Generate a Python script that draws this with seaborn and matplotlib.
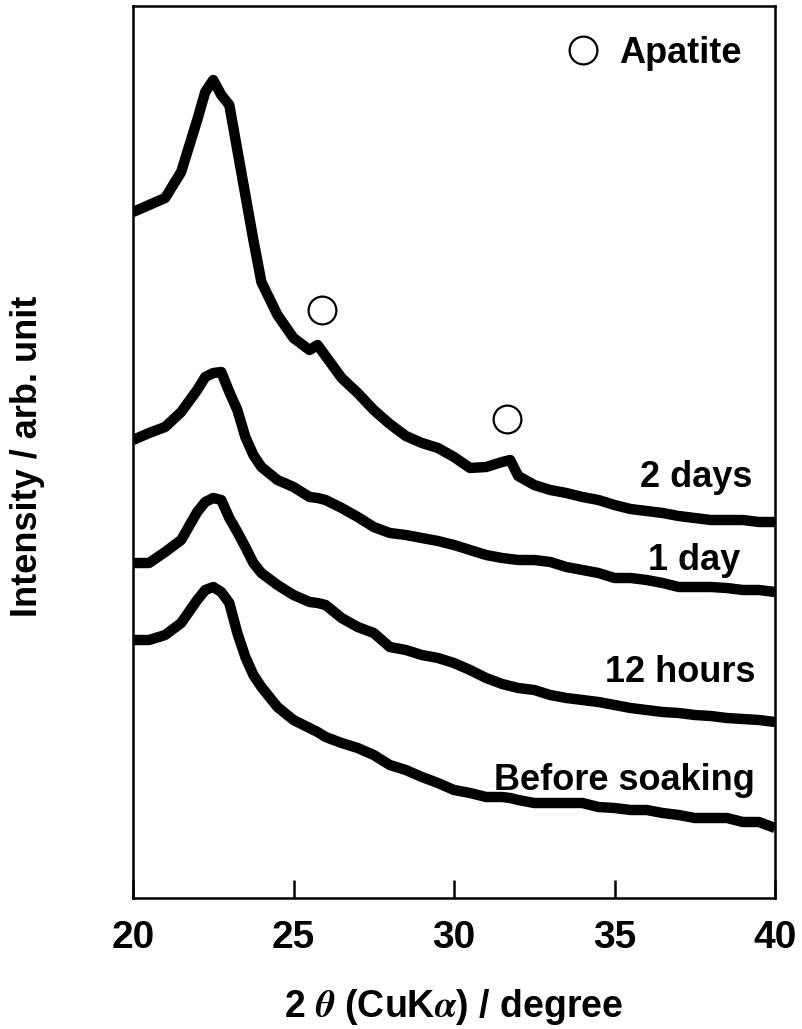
import numpy as np
import pandas as pd
import matplotlib
matplotlib.use("Agg")
import matplotlib.pyplot as plt
from matplotlib.lines import Line2D
import seaborn as sns

# ---- data (arbitrary intensity units) ----
two_theta = [20, 20.5, 21, 21.5, 22, 22.25, 22.5, 22.75, 23, 23.25,
             23.5, 23.75, 24, 24.5, 25, 25.5, 25.75, 26, 26.5, 27,
             27.5, 28, 28.5, 29, 29.5, 30, 30.5, 31, 31.5, 31.75,
             32, 32.5, 33, 33.5, 34, 34.5, 35, 35.5, 36, 36.5,
             37, 37.5, 38, 38.5, 39, 39.5, 40]

int_2days = [686, 693, 700, 726, 778, 806, 818, 803, 793, 748,
             703, 658, 616, 583, 560, 548, 553, 542, 520, 505,
             488, 474, 462, 455, 450, 441, 430, 431, 436, 438,
             422, 413, 408, 405, 401, 398, 393, 389, 387, 385,
             382, 380, 378, 378, 378, 376, 376]

int_1day = [458, 465, 471, 486, 508, 521, 525, 526, 506, 488,
            461, 443, 431, 418, 411, 401, 400, 398, 390, 381,
            371, 365, 363, 360, 357, 353, 348, 343, 340, 339,
            338, 338, 336, 331, 328, 325, 320, 320, 318, 315,
            311, 311, 311, 310, 308, 308, 306]

int_12h = [335, 335, 346, 358, 386, 396, 400, 398, 380, 366,
           351, 335, 325, 313, 303, 296, 295, 293, 280, 271,
           265, 251, 248, 243, 240, 235, 228, 220, 214, 212,
           210, 208, 203, 200, 198, 196, 193, 190, 188, 186,
           185, 183, 182, 180, 179, 178, 176]

int_before = [258, 258, 263, 275, 298, 308, 311, 306, 295, 265,
              241, 223, 211, 191, 178, 170, 166, 161, 155, 150,
              143, 133, 128, 121, 115, 108, 105, 101, 101, 100,
              98, 95, 95, 95, 95, 91, 90, 88, 88, 85,
              83, 80, 80, 80, 76, 76, 70]

sample_labels = ["2 days", "1 day", "12 hours", "Before soaking"]
apatite_peaks = [25.9, 31.65]
x_ticks = [20, 25, 30, 35, 40]

# ---- styling ----
sns.set_theme(style="ticks")
plt.rcParams["font.family"] = ["Liberation Sans", "DejaVu Sans"]
plt.rcParams["font.weight"] = "bold"
plt.rcParams["mathtext.fontset"] = "stix"
plt.rcParams["text.color"] = "black"
plt.rcParams["axes.labelcolor"] = "black"
plt.rcParams["xtick.color"] = "black"
plt.rcParams["ytick.color"] = "black"

series = [int_2days, int_1day, int_12h, int_before]
df = pd.concat(
    [pd.DataFrame({"two_theta": two_theta, "intensity": s, "sample": lab})
     for s, lab in zip(series, sample_labels)],
    ignore_index=True)

fig = plt.figure(figsize=(8.02, 10.29), dpi=100)
ax = fig.add_axes([133 / 802, 131 / 1029, 642 / 802, 892 / 1029])

sns.lineplot(data=df, x="two_theta", y="intensity", hue="sample",
             palette=["black"] * 4, linewidth=7.5, legend=False,
             estimator=None, sort=False, ax=ax)
for ln in ax.get_lines():
    ln.set_solid_joinstyle("round")
    ln.set_solid_capstyle("butt")

# apatite markers above the 2-days curve
ap_y = np.interp(apatite_peaks, two_theta, int_2days) + 42
ax.plot(apatite_peaks, ap_y, ls="", marker="o", ms=20,
        mfc="white", mec="black", mew=1.6)

# curve labels
label_pos = {"2 days": (39.28, 411), "1 day": (38.91, 328),
             "12 hours": (39.38, 216), "Before soaking": (39.38, 108)}
for lab in sample_labels:
    x, y = label_pos[lab]
    ax.text(x, y, lab, ha="right", va="baseline", fontsize=26,
            fontweight="bold", color="black")

handle = Line2D([], [], ls="", marker="o", ms=20, mfc="white",
                mec="black", mew=1.6)
leg = ax.legend([handle], ["Apatite"], loc="center left",
                bbox_to_anchor=(0.673, 0.947), frameon=False,
                handlelength=1.0, handletextpad=0.5, borderpad=0,
                borderaxespad=0, prop={"size": 26, "weight": "bold"})
for t in leg.get_texts():
    t.set_color("black")

ax.set_xlim(20, 40)
ax.set_ylim(0, 892)
ax.set_xticks(x_ticks)
ax.set_xticklabels([str(t) for t in x_ticks])
ax.set_yticks([])
ax.tick_params(axis="x", direction="in", length=13, width=1.8,
               pad=16, labelsize=28, colors="black")
for t in ax.get_xticklabels():
    t.set_fontweight("bold")
for sp in ax.spines.values():
    sp.set_visible(True)
    sp.set_linewidth(1.8)
    sp.set_color("black")

ax.set_xlabel(r"2 $\theta$ (CuK$\alpha$) / degree", fontsize=27,
              fontweight="bold", labelpad=22, color="black")
ax.set_ylabel("Intensity / arb. unit", fontsize=26, fontweight="bold",
              color="black")
ax.yaxis.set_label_coords(-0.137, 0.4955)

fig.savefig("out.png", dpi=100)
